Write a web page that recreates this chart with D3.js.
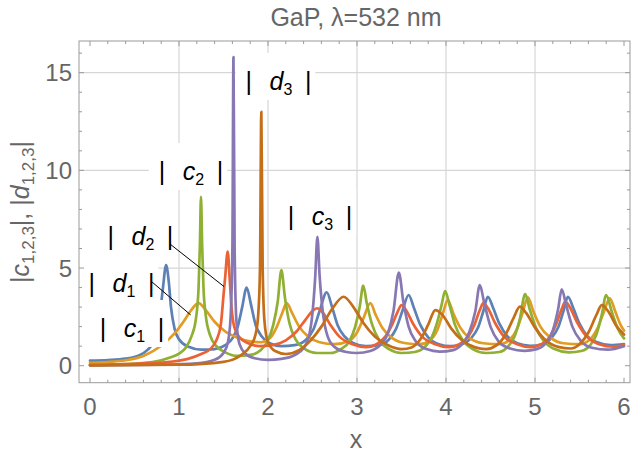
<!DOCTYPE html>
<html>
<head>
<meta charset="utf-8">
<script src="https://cdn.jsdelivr.net/npm/d3@7"></script>
<style>
  html, body { margin: 0; padding: 0; background: #fff; }
  svg { display: block; }
  text { font-family: "Liberation Sans", Arial, sans-serif; }
</style>
</head>
<body>
<svg id="chart" width="631" height="462"></svg>
<script>
// Mie-type scattering coefficients of a GaP rod at 532 nm, |c_n| and |d_n| vs size parameter x
const seriesNames = ["c1", "d1", "c2", "d2", "c3", "d3"];
const seriesColors = ["#5E81B5", "#E19C24", "#8FB032", "#EB6235", "#8778B3", "#C56E1A"];

const c1 = [[0,0.26],[0.2,0.29],[0.4,0.36],[0.55,0.52],[0.65,0.82],[0.7,1.1],[0.75,1.7],[0.79,2.8],[0.82,4.0],[0.855,5.15],[0.885,4.3],[0.91,3.0],[0.95,1.9],[1.0,1.35],[1.1,0.98],[1.25,0.82],[1.4,0.85],[1.52,1.05],[1.6,1.4],[1.66,2.0],[1.71,3.0],[1.76,4.0],[1.81,3.1],[1.86,2.1],[1.93,1.5],[2.02,1.15],[2.15,1.0],[2.3,1.05],[2.42,1.3],[2.51,1.85],[2.58,2.8],[2.66,3.76],[2.72,3.0],[2.78,2.1],[2.86,1.5],[2.96,1.15],[3.1,1.0],[3.25,1.05],[3.36,1.35],[3.44,1.9],[3.51,2.8],[3.58,3.62],[3.64,2.95],[3.71,2.1],[3.8,1.45],[3.92,1.1],[4.05,1.0],[4.18,1.1],[4.28,1.4],[4.36,1.95],[4.42,2.8],[4.47,3.53],[4.53,2.95],[4.6,2.15],[4.69,1.5],[4.8,1.15],[4.95,1.02],[5.08,1.1],[5.18,1.4],[5.26,1.95],[5.32,2.8],[5.37,3.53],[5.43,2.95],[5.5,2.15],[5.59,1.5],[5.7,1.2],[5.85,1.05],[6,1.1]];

const d1 = [[0,0.15],[0.2,0.19],[0.4,0.28],[0.6,0.5],[0.8,1.02],[0.95,1.65],[1.05,2.25],[1.13,2.8],[1.22,3.2],[1.3,2.85],[1.4,2.25],[1.52,1.75],[1.65,1.45],[1.8,1.25],[1.92,1.2],[2.02,1.4],[2.1,2.0],[2.16,2.7],[2.21,3.2],[2.27,2.7],[2.35,2.0],[2.45,1.5],[2.58,1.2],[2.75,1.1],[2.9,1.25],[3.0,1.7],[3.07,2.4],[3.15,3.2],[3.21,2.6],[3.29,1.9],[3.4,1.4],[3.55,1.15],[3.7,1.1],[3.82,1.3],[3.9,1.8],[3.96,2.6],[4.02,3.36],[4.08,2.7],[4.16,1.95],[4.27,1.4],[4.42,1.15],[4.6,1.1],[4.72,1.35],[4.8,1.9],[4.86,2.7],[4.92,3.5],[4.98,2.8],[5.06,2.0],[5.17,1.45],[5.32,1.15],[5.5,1.1],[5.62,1.35],[5.7,1.9],[5.77,2.7],[5.84,3.45],[5.9,2.8],[5.96,2.1],[6,1.8]];

const c2 = [[0,0.04],[0.4,0.08],[0.7,0.18],[0.9,0.42],[1.0,0.62],[1.08,0.95],[1.14,1.5],[1.19,2.4],[1.22,4.0],[1.235,6.2],[1.247,8.65],[1.26,6.2],[1.275,4.0],[1.3,2.6],[1.35,1.55],[1.42,1.0],[1.52,0.68],[1.65,0.5],[1.8,0.55],[1.92,0.8],[2.0,1.3],[2.06,2.1],[2.11,3.3],[2.15,4.9],[2.19,3.5],[2.24,2.2],[2.31,1.35],[2.4,0.9],[2.55,0.65],[2.7,0.65],[2.82,0.85],[2.92,1.3],[2.98,2.0],[3.03,3.0],[3.07,4.1],[3.11,3.2],[3.17,2.1],[3.25,1.3],[3.36,0.85],[3.5,0.65],[3.65,0.7],[3.76,0.95],[3.84,1.45],[3.9,2.2],[3.95,3.1],[3.99,3.82],[4.04,3.1],[4.1,2.1],[4.19,1.3],[4.3,0.85],[4.45,0.65],[4.6,0.7],[4.7,1.0],[4.77,1.5],[4.83,2.4],[4.89,3.67],[4.94,2.9],[5.01,1.95],[5.1,1.25],[5.22,0.85],[5.38,0.68],[5.52,0.75],[5.62,1.05],[5.69,1.6],[5.75,2.6],[5.8,3.62],[5.86,2.8],[5.93,1.9],[6,1.4]];

const d2 = [[0,0.04],[0.5,0.1],[0.9,0.2],[1.1,0.35],[1.25,0.6],[1.35,0.85],[1.42,1.3],[1.47,2.1],[1.5,3.6],[1.52,4.6],[1.547,5.84],[1.57,4.4],[1.59,3.0],[1.62,2.0],[1.68,1.45],[1.78,1.15],[1.9,1.0],[2.05,1.05],[2.2,1.3],[2.32,1.75],[2.42,2.35],[2.5,2.8],[2.55,2.94],[2.61,2.75],[2.7,2.1],[2.8,1.5],[2.95,1.1],[3.1,0.95],[3.22,1.1],[3.32,1.5],[3.4,2.15],[3.46,2.8],[3.5,3.1],[3.55,2.85],[3.63,2.15],[3.73,1.5],[3.88,1.1],[4.03,0.95],[4.15,1.1],[4.25,1.5],[4.32,2.1],[4.38,2.85],[4.42,3.2],[4.47,2.95],[4.55,2.2],[4.65,1.5],[4.8,1.1],[4.95,0.95],[5.07,1.1],[5.17,1.5],[5.24,2.15],[5.3,2.9],[5.34,3.28],[5.39,3.0],[5.47,2.25],[5.57,1.55],[5.72,1.1],[5.88,0.97],[6,1.05]];

const c3 = [[0,0.02],[0.8,0.05],[1.2,0.12],[1.4,0.3],[1.5,0.65],[1.55,1.2],[1.58,2.5],[1.6,6.0],[1.612,15.8],[1.625,6.0],[1.645,2.3],[1.68,1.1],[1.75,0.6],[1.85,0.38],[2.0,0.3],[2.15,0.35],[2.3,0.55],[2.4,0.9],[2.46,1.5],[2.5,2.7],[2.53,4.5],[2.555,6.6],[2.58,4.6],[2.62,2.6],[2.67,1.5],[2.75,0.95],[2.88,0.7],[3.0,0.65],[3.15,0.75],[3.27,1.1],[3.35,1.7],[3.41,2.8],[3.47,4.76],[3.52,3.3],[3.58,2.0],[3.66,1.25],[3.78,0.85],[3.93,0.72],[4.08,0.8],[4.18,1.1],[4.26,1.7],[4.33,2.8],[4.38,4.13],[4.43,3.2],[4.5,2.0],[4.59,1.25],[4.72,0.88],[4.88,0.76],[5.02,0.85],[5.12,1.15],[5.2,1.8],[5.26,2.9],[5.3,3.91],[5.35,3.1],[5.42,2.0],[5.51,1.3],[5.64,0.92],[5.82,0.82],[6,1.0]];

const d3s = [[0,0.02],[1.0,0.05],[1.5,0.2],[1.7,0.55],[1.8,1.0],[1.86,1.6],[1.89,2.6],[1.91,5.0],[1.925,13.0],[1.94,5.0],[1.96,2.3],[2.0,1.2],[2.08,0.75],[2.2,0.6],[2.35,0.8],[2.48,1.3],[2.6,2.0],[2.72,2.9],[2.85,3.53],[2.96,3.0],[3.07,2.2],[3.2,1.5],[3.35,1.05],[3.5,0.85],[3.62,0.95],[3.72,1.4],[3.8,2.1],[3.88,2.85],[3.96,2.6],[4.06,1.9],[4.18,1.3],[4.32,0.95],[4.45,0.85],[4.57,1.05],[4.67,1.6],[4.76,2.45],[4.83,3.02],[4.9,2.7],[5.0,1.95],[5.12,1.3],[5.27,0.95],[5.4,0.88],[5.5,1.1],[5.6,1.7],[5.69,2.6],[5.75,3.1],[5.82,2.8],[5.92,2.0],[6,1.6]];

const seriesValues = [c1, d1, c2, d2, c3, d3s];

const xTicks = [0, 1, 2, 3, 4, 5, 6];
const yTicks = [0, 5, 10, 15];
const xGrid = [1, 2, 3, 4, 5];
const yGrid = [5, 10, 15];

// in-plot labels: letter, index, baseline anchor (data coords), optional callout start/end (data coords)
const labelLetters = ["c", "d", "d", "c", "d", "c"];
const labelIndices = ["1", "1", "2", "2", "3", "3"];
const labelAnchors = [[0.472, 1.47], [0.354, 3.77], [0.567, 6.18], [1.135, 9.51], [2.118, 14.12], [2.584, 7.2]];
const calloutStarts = [null, [0.693, 4.3], [0.899, 6.23], null, null, null];
const calloutEnds = [null, [1.131, 2.6], [1.506, 4.05], null, null, null];

const svg = d3.select("#chart");
const frame = { left: 79, right: 630, top: 41, bottom: 382.7 };

const x = d3.scaleLinear().domain([0, 6]).range([90, 624]);
const y = d3.scaleLinear().domain([0, 15]).range([365.7, 72.7]);

const gray = "#666666";
const frameGray = "#9a9a9a";

// title
svg.append("text")
  .attr("x", 356).attr("y", 26)
  .attr("text-anchor", "middle")
  .attr("font-size", 25).attr("fill", gray)
  .text("GaP, λ=532 nm");

// grid
const grid = svg.append("g").attr("stroke", "#d6d6d6").attr("stroke-width", 1.2);
grid.selectAll("line.gx").data(xGrid).join("line")
  .attr("x1", d => x(d)).attr("x2", d => x(d))
  .attr("y1", frame.top).attr("y2", frame.bottom);
grid.selectAll("line.gy").data(yGrid).join("line")
  .attr("x1", frame.left).attr("x2", frame.right)
  .attr("y1", d => y(d)).attr("y2", d => y(d));

// curves
svg.append("clipPath").attr("id", "plotclip").append("rect")
  .attr("x", frame.left).attr("y", frame.top)
  .attr("width", frame.right - frame.left).attr("height", frame.bottom - frame.top);

const line = d3.line().x(d => x(d[0])).y(d => y(d[1])).curve(d3.curveMonotoneX);
const curves = svg.append("g").attr("clip-path", "url(#plotclip)");
curves.selectAll("path").data(seriesValues).join("path")
  .attr("d", line)
  .attr("fill", "none")
  .attr("stroke", (d, i) => seriesColors[i])
  .attr("stroke-width", 2.7)
  .attr("stroke-linejoin", "round")
  .attr("stroke-linecap", "round");

// labels with white backing boxes
const labelG = svg.append("g");
labelAnchors.forEach((a, i) => {
  const cx = x(a[0]), cy = y(a[1]);
  const g = labelG.append("g");
  const box = g.append("rect").attr("fill", "#fff");
  const t = g.append("text")
    .attr("x", cx).attr("y", cy)
    .attr("text-anchor", "middle")
    .attr("font-size", 25).attr("fill", "#000")
    .attr("xml:space", "preserve");
  t.append("tspan").text("|\u2002\u2009");
  t.append("tspan").attr("font-style", "italic").text(labelLetters[i]);
  t.append("tspan").attr("font-size", 16).attr("dy", 5).text(labelIndices[i]);
  t.append("tspan").attr("dy", -5).text("\u2002|");
  const bb = t.node().getBBox();
  box.attr("x", bb.x - 10).attr("y", bb.y - 14)
    .attr("width", bb.width + 14).attr("height", bb.height + 16);
  if (calloutStarts[i]) {
    const s = calloutStarts[i], e = calloutEnds[i];
    labelG.append("line")
      .attr("x1", x(s[0])).attr("y1", y(s[1]))
      .attr("x2", x(e[0])).attr("y2", y(e[1]))
      .attr("stroke", "#000").attr("stroke-width", 1);
  }
});

// frame and ticks (mirrored on all four sides, pointing inward)
const ax = svg.append("g").attr("stroke", frameGray).attr("stroke-width", 1);
const xMinor = d3.range(0, 31).map(v => v / 5).filter(v => !xTicks.includes(v));
const yMinor = d3.range(0, 17).filter(v => !yTicks.includes(v));

function ticksX(vals, len) {
  vals.forEach(v => {
    ax.append("line").attr("x1", x(v)).attr("x2", x(v)).attr("y1", frame.bottom).attr("y2", frame.bottom - len);
    ax.append("line").attr("x1", x(v)).attr("x2", x(v)).attr("y1", frame.top).attr("y2", frame.top + len);
  });
}
function ticksY(vals, len) {
  vals.forEach(v => {
    ax.append("line").attr("y1", y(v)).attr("y2", y(v)).attr("x1", frame.left).attr("x2", frame.left + len);
    ax.append("line").attr("y1", y(v)).attr("y2", y(v)).attr("x1", frame.right).attr("x2", frame.right - len);
  });
}
ticksX(xTicks, 5);
ticksX(xMinor, 3);
ticksY(yTicks, 5);
ticksY(yMinor.filter(v => y(v) > frame.top), 3);

ax.append("rect")
  .attr("x", frame.left).attr("y", frame.top)
  .attr("width", frame.right - frame.left).attr("height", frame.bottom - frame.top)
  .attr("fill", "none");

// tick labels
svg.append("g").selectAll("text").data(xTicks).join("text")
  .attr("x", d => x(d)).attr("y", frame.bottom + 32)
  .attr("text-anchor", "middle").attr("font-size", 24).attr("fill", gray)
  .text(d => d);
svg.append("g").selectAll("text").data(yTicks).join("text")
  .attr("x", frame.left - 7).attr("y", d => y(d) + 8.5)
  .attr("text-anchor", "end").attr("font-size", 24).attr("fill", gray)
  .text(d => d);

// axis titles
svg.append("text")
  .attr("x", 356).attr("y", 448)
  .attr("text-anchor", "middle").attr("font-size", 25).attr("fill", gray)
  .text("x");

const yl = svg.append("text")
  .attr("transform", "translate(29,212) rotate(-90)")
  .attr("text-anchor", "middle").attr("font-size", 25).attr("fill", gray);
yl.append("tspan").text("|");
yl.append("tspan").attr("font-style", "italic").text("c");
yl.append("tspan").attr("font-size", 17).attr("dy", 5).text("1,2,3");
yl.append("tspan").attr("dy", -5).text("|, |");
yl.append("tspan").attr("font-style", "italic").text("d");
yl.append("tspan").attr("font-size", 17).attr("dy", 5).text("1,2,3");
yl.append("tspan").attr("dy", -5).text("|");
</script>
</body>
</html>
